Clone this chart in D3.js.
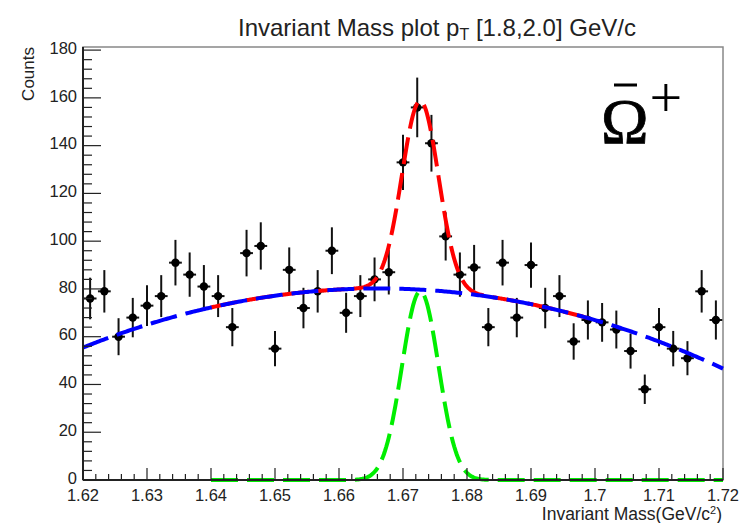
<!DOCTYPE html>
<html>
<head>
<meta charset="utf-8">
<script src="https://cdn.jsdelivr.net/npm/d3@7"></script>
<style>
  body { margin: 0; background: #fff; }
  svg { font-family: "Liberation Sans", Arial, sans-serif; }
</style>
</head>
<body>
<svg id="chart" width="742" height="523"></svg>
<script>
// histogram: 45 bins between 1.62 and 1.72
var massRange = [1.62, 1.72];
var counts = [76, 79, 60, 68, 73, 77, 91, 86, 81, 77, 64, 95, 98, 55, 88,
              72, 79, 96, 70, 77, 84, 87, 133, 156, 141, 102, 86, 89, 64, 91,
              68, 90, 72, 77, 58, 67, 66, 63, 54, 38, 64, 55, 51, 79, 67];
var xTicks = [1.62, 1.63, 1.64, 1.65, 1.66, 1.67, 1.68, 1.69, 1.7, 1.71, 1.72];
var yTicks = [0, 20, 40, 60, 80, 100, 120, 140, 160, 180];

// fit results
var bgPar = {top: 80.2, x0: 1.6662, curv: 11592};      // quadratic background
var sigPar = {amp: 79, mean: 1.6727, sigma: 0.00285};   // gaussian signal
var sigRange = [1.64, 1.72];
var totRange = [1.64, 1.70];

var margin = {top: 47, right: 19, bottom: 43, left: 83};
var W = 742, H = 523;
var width = W - margin.left - margin.right;
var height = H - margin.top - margin.bottom;

var svg = d3.select("#chart");
var g = svg.append("g").attr("transform", "translate(" + margin.left + "," + margin.top + ")");

var x = d3.scaleLinear().domain(massRange).range([0, width]);
var y = d3.scaleLinear().domain([0, 181.3]).range([height, 0]);

var binW = (massRange[1] - massRange[0]) / counts.length;
var data = counts.map(function(c, i) {
    return {x: massRange[0] + (i + 0.5) * binW, y: c, e: Math.sqrt(c)};
});

function bg(m) { return bgPar.top - bgPar.curv * (m - bgPar.x0) * (m - bgPar.x0); }
function sig(m) { var d = (m - sigPar.mean) / sigPar.sigma; return sigPar.amp * Math.exp(-0.5 * d * d); }
function tot(m) { return bg(m) + sig(m); }

function sample(f, r) {
    var pts = [];
    for (var i = 0; i <= 400; i++) {
        var m = r[0] + (r[1] - r[0]) * i / 400;
        pts.push([m, f(m)]);
    }
    return pts;
}

var line = d3.line().x(function(d) { return x(d[0]); }).y(function(d) { return y(d[1]); });

// frame (grey top/right)
g.append("rect").attr("width", width).attr("height", height)
    .attr("fill", "none").attr("stroke", "#888").attr("stroke-width", 1.5);

// error bars + markers
var pt = g.append("g");
pt.selectAll(".ey").data(data).enter().append("line")
    .attr("x1", function(d) { return x(d.x); }).attr("x2", function(d) { return x(d.x); })
    .attr("y1", function(d) { return y(d.y - d.e); }).attr("y2", function(d) { return y(d.y + d.e); })
    .attr("stroke", "#111").attr("stroke-width", 2);
pt.selectAll(".ex").data(data).enter().append("line")
    .attr("x1", function(d) { return x(d.x - binW * 0.45); }).attr("x2", function(d) { return x(d.x + binW * 0.45); })
    .attr("y1", function(d) { return y(d.y); }).attr("y2", function(d) { return y(d.y); })
    .attr("stroke", "#111").attr("stroke-width", 2);
pt.selectAll("circle").data(data).enter().append("circle")
    .attr("cx", function(d) { return x(d.x); }).attr("cy", function(d) { return y(d.y); })
    .attr("r", 4.2).attr("fill", "#000");

// fit curves
var dash = "27,9";
g.append("path").datum(sample(tot, totRange)).attr("d", line)
    .attr("fill", "none").attr("stroke", "#ff0000").attr("stroke-width", 4).attr("stroke-dasharray", dash);
g.append("path").datum(sample(bg, massRange)).attr("d", line)
    .attr("fill", "none").attr("stroke", "#0000ff").attr("stroke-width", 4).attr("stroke-dasharray", dash);
g.append("path").datum(sample(sig, sigRange)).attr("d", line)
    .attr("fill", "none").attr("stroke", "#00ee00").attr("stroke-width", 4).attr("stroke-dasharray", dash);

// axes
var xAxis = g.append("g").attr("transform", "translate(0," + height + ")");
xAxis.append("line").attr("x1", 0).attr("x2", width).attr("stroke", "#222").attr("stroke-width", 2);
var xMinor = d3.range(0, 51).map(function(i) { return massRange[0] + i * 0.002; });
xAxis.selectAll(".xm").data(xMinor).enter().append("line")
    .attr("x1", function(d) { return x(d); }).attr("x2", function(d) { return x(d); })
    .attr("y1", 0).attr("y2", function(d, i) { return i % 5 === 0 ? -12 : -6; })
    .attr("stroke", "#222").attr("stroke-width", 1.2);
xAxis.selectAll(".xl").data(xTicks).enter().append("text")
    .attr("x", function(d) { return x(d); }).attr("y", 21)
    .attr("text-anchor", "middle").attr("font-size", 16.5).attr("fill", "#222")
    .text(function(d) { return d3.format("")(d); });

var yAxis = g.append("g");
yAxis.append("line").attr("y1", 0).attr("y2", height).attr("stroke", "#222").attr("stroke-width", 2);
var yMinor = d3.range(0, 46).map(function(i) { return i * 4; });
yAxis.selectAll(".ym").data(yMinor).enter().append("line")
    .attr("y1", function(d) { return y(d); }).attr("y2", function(d) { return y(d); })
    .attr("x1", 0).attr("x2", function(d, i) { return i % 5 === 0 ? 18 : 9; })
    .attr("stroke", "#222").attr("stroke-width", 1.2);
yAxis.selectAll(".yl").data(yTicks).enter().append("text")
    .attr("x", -6).attr("y", function(d) { return y(d); }).attr("dy", "0.22em")
    .attr("text-anchor", "end").attr("font-size", 16.5).attr("fill", "#222")
    .text(function(d) { return d; });

// titles
var title = svg.append("text").attr("x", 437).attr("y", 36)
    .attr("text-anchor", "middle").attr("font-size", 24).attr("fill", "#222");
title.append("tspan").text("Invariant Mass plot p");
title.append("tspan").attr("font-size", 16).attr("dy", 4).text("T");
title.append("tspan").attr("dy", -4).text(" [1.8,2.0] GeV/c");

svg.append("text").attr("transform", "translate(34,47) rotate(-90)")
    .attr("text-anchor", "end").attr("font-size", 17).attr("fill", "#222").text("Counts");

var xl = svg.append("text").attr("x", 722).attr("y", 520)
    .attr("text-anchor", "end").attr("font-size", 17.5).attr("fill", "#222");
xl.append("tspan").text("Invariant Mass(GeV/c");
xl.append("tspan").attr("font-size", 11).attr("dy", -6).text("2");
xl.append("tspan").attr("dy", 6).text(")");

// particle label: anti-Omega plus
var om = svg.append("text").attr("x", 601).attr("y", 143)
    .attr("font-family", "'Liberation Serif', 'DejaVu Serif', serif").attr("font-size", 64).attr("fill", "#000")
    .attr("stroke", "#000").attr("stroke-width", 0.8);
om.append("tspan").text("\u03A9");
om.append("tspan").attr("font-size", 58).attr("dy", -26).attr("dx", 1).attr("stroke-width", 0).text("+");
svg.append("line").attr("x1", 614).attr("x2", 637).attr("y1", 85).attr("y2", 85)
    .attr("stroke", "#000").attr("stroke-width", 3);
</script>
</body>
</html>
